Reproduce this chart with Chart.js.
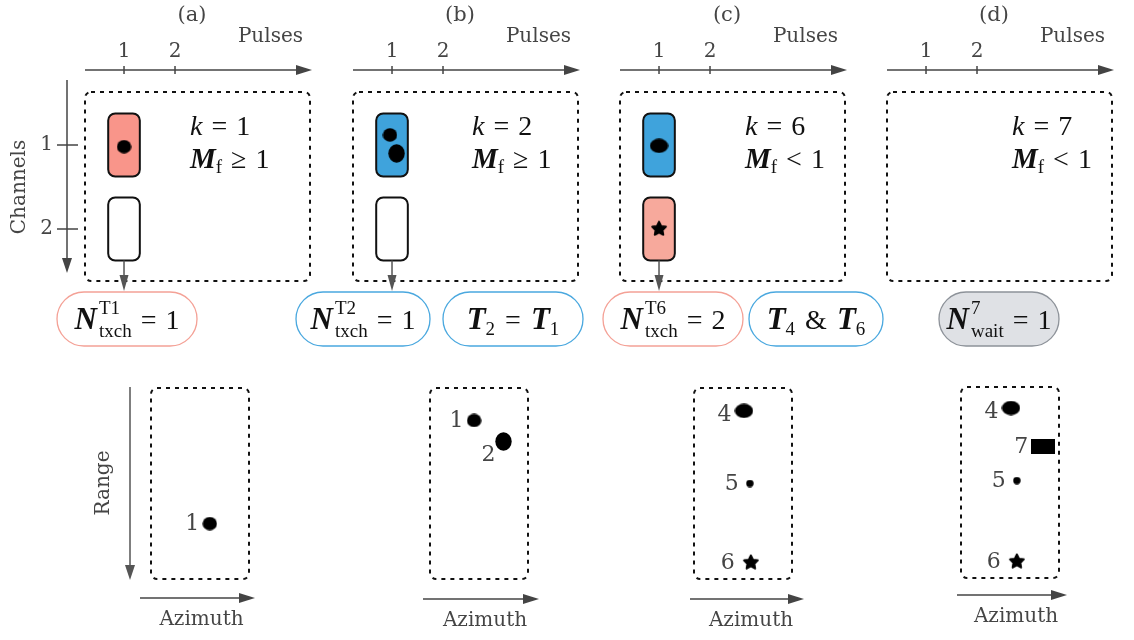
<!DOCTYPE html>
<html>
<head>
<meta charset="utf-8">
<script src="https://cdn.jsdelivr.net/npm/chart.js@4.4.1/dist/chart.umd.min.js"></script>
<style>
html, body { margin: 0; padding: 0; background: #fff; overflow: hidden; }
#wrap { position: relative; width: 1134px; height: 640px; overflow: hidden; }
#wrap canvas { position: absolute; }
</style>
</head>
<body>
<div id="wrap"></div>
<script>
// ---- data ----
const panelNames = ['(a)', '(b)', '(c)', '(d)'];
const kValues = [1, 2, 6, 7];
const mfRelation = ['\u2265', '\u2265', '<', '<'];
const pulseTicks = [1, 2];
const channelTicks = [1, 2];

// channel cells of each panel
const cellPulse = [[1, 1], [1, 1], [1, 1], []];
const cellChannel = [[1, 2], [1, 2], [1, 2], []];
const cellState = [['red', 'empty'], ['blue', 'empty'], ['blue', 'redLight'], []];

// measurements inside the cells (pulse, channel)
const measPulse = [[1], [0.96, 1.09], [1, 1], []];
const measChannel = [[1.02], [0.88, 1.1], [1.01, 1.99], []];
const measMarker = [['dot'], ['dot', 'bigdot'], ['ellipse', 'star'], []];

// counters under each panel
const countSup = ['T1', 'T2', 'T6', '7'];
const countSub = ['txch', 'txch', 'txch', 'wait'];
const countValue = [1, 1, 2, 1];
const countColour = ['red', 'blue', 'red', 'grey'];
const trackRelation = [null, ['2', '=', '1'], ['4', '&', '6'], null];

// detections in the azimuth / range plots (0..100 of the window)
const detId = [[1], [1, 2], [4, 5, 6], [4, 7, 5, 6]];
const detAzimuth = [[60], [45, 75], [51, 57, 58], [51, 84, 57, 57]];
const detRange = [[71], [17, 28], [12, 50, 91], [11, 31, 49, 91]];
const detMarker = [['dot'], ['dot', 'bigdot'], ['ellipse', 'small', 'star'], ['ellipse', 'rect', 'small', 'star']];

// ---- layout ----
const boxLeft = [85, 353, 620, 887];
const boxTop = 92, boxW = 225, boxH = 189;
const pulseMin = 0.235, pulseMax = 4.647;
const chanMin = 0.369, chanMax = 2.619;
const kTextLeft = [105, 119, 125, 125];
const pillLeft = [[-28], [-57, 90], [-17, 129], [52]];
const pillWidth = [[140], [134, 140], [140, 134], [120]];
const pillTop = 292, pillH = 54;

const detBoxLeft = [151, 430, 694, 961];
const detBoxTop = [388, 388, 388, 387];
const detBoxW = 98, detBoxH = 191;
const azArrow = [[-11, 6, 19], [-7, 11, 20], [-4, 12, 20], [-4, 8, 17]];

const colours = {
  red: '#f9958a', redLight: '#f7a99c', blue: '#3fa3dc', empty: '#ffffff',
  redLine: '#f4a196', blueLine: '#4aa8df', grey: '#dfe1e5', greyLine: '#8d9299'
};
const LABEL = '20px "DejaVu Serif"';
const GREY = '#454545';
const MF = {
  i: 'italic 28px "Liberation Serif"',
  b: 'italic bold 29px "Liberation Serif"',
  B: 'italic bold 31px "Liberation Serif"',
  r: '28px "Liberation Serif"',
  s: '19px "Liberation Serif"'
};

function makeMarker(kind) {
  const dims = {dot: [15, 14], bigdot: [17, 19], ellipse: [19, 15], small: [8, 8], star: [18, 16], rect: [24, 15]}[kind];
  const c = document.createElement('canvas');
  c.width = dims[0]; c.height = dims[1];
  const g = c.getContext('2d');
  const cx = c.width / 2, cy = c.height / 2;
  g.fillStyle = '#000';
  g.beginPath();
  if (kind === 'rect') {
    g.rect(0, 0, c.width, c.height);
  } else if (kind === 'star') {
    for (let i = 0; i < 10; i++) {
      const r = i % 2 ? 3.6 : 7.2;
      const a = -Math.PI / 2 + i * Math.PI / 5;
      g.lineTo(cx + r * Math.cos(a), cy + 0.8 + r * Math.sin(a));
    }
    g.closePath();
    g.lineJoin = 'round'; g.lineWidth = 2; g.strokeStyle = '#000';
    g.stroke();
  } else {
    g.ellipse(cx, cy, cx - 0.3, cy - 0.3, 0, 0, Math.PI * 2);
  }
  g.fill();
  return c;
}
const markers = {};
['dot', 'bigdot', 'ellipse', 'small', 'star', 'rect'].forEach(k => markers[k] = makeMarker(k));

function arrow(ctx, x1, y1, x2, y2, colour, lw, head, half) {
  const a = Math.atan2(y2 - y1, x2 - x1);
  const bx = x2 - head * Math.cos(a), by = y2 - head * Math.sin(a);
  ctx.save();
  ctx.strokeStyle = colour; ctx.fillStyle = colour; ctx.lineWidth = lw;
  ctx.beginPath(); ctx.moveTo(x1, y1); ctx.lineTo(bx, by); ctx.stroke();
  ctx.beginPath();
  ctx.moveTo(x2, y2);
  ctx.lineTo(bx + half * Math.sin(a), by - half * Math.cos(a));
  ctx.lineTo(bx - half * Math.sin(a), by + half * Math.cos(a));
  ctx.closePath(); ctx.fill();
  ctx.restore();
}

function dottedBox(ctx, x, y, w, h) {
  ctx.save();
  ctx.setLineDash([4, 5]);
  ctx.lineWidth = 2; ctx.strokeStyle = '#111';
  ctx.beginPath(); ctx.roundRect(x, y, w, h, 6); ctx.stroke();
  ctx.restore();
}

function label(ctx, text, x, y, align, font, rot) {
  ctx.save();
  ctx.font = font || LABEL; ctx.fillStyle = GREY;
  ctx.textAlign = align || 'center'; ctx.textBaseline = 'middle';
  ctx.translate(x, y);
  if (rot) ctx.rotate(rot);
  ctx.fillText(text, 0, 0);
  ctx.restore();
}

function partWidth(ctx, pt) {
  if (pt.g) return pt.g;
  if (pt.sup !== undefined) {
    ctx.font = MF.s;
    return Math.max(ctx.measureText(pt.sup).width, ctx.measureText(pt.sub).width);
  }
  ctx.font = MF[pt.f];
  return ctx.measureText(pt.t).width;
}

function drawMath(ctx, parts, x, y, align) {
  let w = 0;
  parts.forEach(pt => w += partWidth(ctx, pt));
  let cx = align === 'center' ? x - w / 2 : x;
  ctx.save();
  ctx.fillStyle = '#111'; ctx.textAlign = 'left'; ctx.textBaseline = 'alphabetic';
  parts.forEach(pt => {
    const pw = partWidth(ctx, pt);
    if (pt.sup !== undefined) {
      ctx.font = MF.s;
      ctx.fillText(pt.sup, cx, y - 15);
      ctx.fillText(pt.sub, cx, y + 8);
    } else if (!pt.g) {
      ctx.font = MF[pt.f];
      ctx.fillText(pt.t, cx, y + (pt.dy || 0));
    }
    cx += pw;
  });
  ctx.restore();
}

function pill(ctx, x, w, kind) {
  ctx.save();
  ctx.beginPath(); ctx.roundRect(x, pillTop, w, pillH, pillH / 2);
  if (kind === 'grey') {
    ctx.fillStyle = colours.grey; ctx.fill();
    ctx.strokeStyle = colours.greyLine;
  } else {
    ctx.strokeStyle = colours[kind + 'Line'];
  }
  ctx.lineWidth = 1.3; ctx.stroke();
  ctx.restore();
}

const wrap = document.getElementById('wrap');
function addCanvas(left, top, w, h) {
  const c = document.createElement('canvas');
  c.width = w; c.height = h;
  c.style.left = left + 'px'; c.style.top = top + 'px';
  c.style.width = w + 'px'; c.style.height = h + 'px';
  wrap.appendChild(c);
  return c;
}

// ---- upper panels: pulses x channels ----
function topPanel(p) {
  const cw = 350, ch = 360, padL = 85;
  const cv = addCanvas(boxLeft[p] - padL, 0, cw, ch);
  const diagram = {
    id: 'diagram' + p,
    beforeDatasetsDraw(chart) {
      const ctx = chart.ctx, ca = chart.chartArea;
      const xs = chart.scales.x, ys = chart.scales.y;
      dottedBox(ctx, ca.left, ca.top, ca.width, ca.height);

      // pulses axis
      const ay = ca.top - 22;
      arrow(ctx, ca.left, ay, ca.right + 2, ay, '#444', 1.5, 16, 5);
      ctx.save(); ctx.strokeStyle = '#444'; ctx.lineWidth = 1.5;
      pulseTicks.forEach(t => {
        const x = xs.getPixelForValue(t);
        ctx.beginPath(); ctx.moveTo(x, ay - 4); ctx.lineTo(x, ay + 4); ctx.stroke();
        label(ctx, String(t), x, ay - 18);
      });
      ctx.restore();
      label(ctx, 'Pulses', ca.right - 7, ay - 33, 'right');
      label(ctx, panelNames[p], ca.left + 107, 16, 'center', '21px "DejaVu Serif"');

      // channels axis (first panel only)
      if (p === 0) {
        const ax = ca.left - 18;
        arrow(ctx, ax, ca.top - 12, ax, ca.bottom - 8, '#444', 1.5, 15, 5);
        ctx.save(); ctx.strokeStyle = '#444'; ctx.lineWidth = 1.5;
        channelTicks.forEach(t => {
          const y = ys.getPixelForValue(t);
          ctx.beginPath(); ctx.moveTo(ax - 10, y); ctx.lineTo(ax + 11, y); ctx.stroke();
          label(ctx, String(t), ax - 14, y, 'right');
        });
        ctx.restore();
        label(ctx, 'Channels', 20, 187, 'center', LABEL, -Math.PI / 2);
      }

      // channel cells
      let lastBottom = null, lastX = null;
      cellPulse[p].forEach((pu, i) => {
        const c = cellChannel[p][i];
        const x0 = xs.getPixelForValue(pu - 0.31), x1 = xs.getPixelForValue(pu + 0.31);
        const y0 = ys.getPixelForValue(c - 0.375), y1 = ys.getPixelForValue(c + 0.375);
        ctx.save();
        ctx.beginPath(); ctx.roundRect(x0, y0, x1 - x0, y1 - y0, 7);
        ctx.fillStyle = colours[cellState[p][i]]; ctx.fill();
        ctx.lineWidth = 2; ctx.strokeStyle = '#111'; ctx.stroke();
        ctx.restore();
        lastBottom = y1; lastX = xs.getPixelForValue(pu);
      });
      if (lastBottom !== null) arrow(ctx, lastX, lastBottom, lastX, pillTop - 1, '#555', 1.5, 16, 4.5);

      // k and M_f
      const tx = ca.left + kTextLeft[p];
      drawMath(ctx, [{t: 'k', f: 'i'}, {g: 9}, {t: '=', f: 'r'}, {g: 9}, {t: String(kValues[p]), f: 'r'}], tx, 135, 'left');
      drawMath(ctx, [{t: 'M', f: 'b'}, {t: 'f', f: 's', dy: 5}, {g: 9}, {t: mfRelation[p], f: 'r'}, {g: 9}, {t: '1', f: 'r'}], tx, 168, 'left');

      // counters
      const base = pillTop + pillH / 2 + 10;
      const x0 = ca.left + pillLeft[p][0], w0 = pillWidth[p][0];
      pill(ctx, x0, w0, countColour[p]);
      drawMath(ctx, [{t: 'N', f: 'B'}, {g: 2}, {sup: countSup[p], sub: countSub[p]}, {g: 9}, {t: '=', f: 'r'}, {g: 9}, {t: String(countValue[p]), f: 'r'}], x0 + w0 / 2, base, 'center');
      const rel = trackRelation[p];
      if (rel) {
        const x1 = ca.left + pillLeft[p][1], w1 = pillWidth[p][1];
        pill(ctx, x1, w1, 'blue');
        drawMath(ctx, [{t: 'T', f: 'B'}, {t: rel[0], f: 's', dy: 6}, {g: 10}, {t: rel[1], f: 'r'}, {g: 10}, {t: 'T', f: 'B'}, {t: rel[2], f: 's', dy: 6}], x1 + w1 / 2, base, 'center');
      }
    }
  };
  new Chart(cv, {
    type: 'scatter',
    data: {
      datasets: [{
        data: measPulse[p].map((x, i) => ({x: x, y: measChannel[p][i]})),
        pointStyle: measMarker[p].map(m => markers[m])
      }]
    },
    options: {
      responsive: false, animation: false, events: [],
      layout: {padding: {left: padL, top: boxTop, right: cw - padL - boxW, bottom: ch - boxTop - boxH}},
      scales: {
        x: {type: 'linear', min: pulseMin, max: pulseMax, display: false},
        y: {type: 'linear', min: chanMin, max: chanMax, reverse: true, display: false}
      },
      plugins: {legend: {display: false}, tooltip: {enabled: false}}
    },
    plugins: [diagram]
  });
}

// ---- lower panels: azimuth x range ----
function bottomPanel(p) {
  const cw = 200, ch = 270, padL = 75, padT = 18;
  const top = detBoxTop[p] - padT;
  const cv = addCanvas(detBoxLeft[p] - padL, top, cw, ch);
  const frame = {
    id: 'frame' + p,
    beforeDatasetsDraw(chart) {
      const ctx = chart.ctx, ca = chart.chartArea;
      dottedBox(ctx, ca.left, ca.top, ca.width, ca.height);
      const a = azArrow[p];
      const ay = ca.bottom + a[2];
      arrow(ctx, ca.left + a[0], ay, ca.right + a[1], ay, '#444', 1.5, 16, 5);
      label(ctx, 'Azimuth', (ca.left + a[0] + ca.right + a[1]) / 2 + 4, ay + 22);
      if (p === 0) {
        const rx = ca.left - 21;
        arrow(ctx, rx, ca.top - 1, rx, ca.bottom + 1, '#555', 1.5, 15, 5);
        label(ctx, 'Range', ca.left - 47, 483 - top, 'center', LABEL, -Math.PI / 2);
      }
    },
    afterDatasetsDraw(chart) {
      const ctx = chart.ctx;
      const pts = chart.getDatasetMeta(0).data;
      pts.forEach((pt, i) => {
        const m = markers[detMarker[p][i]];
        const id = detId[p][i];
        if (id === 2) {
          label(ctx, String(id), pt.x - 8, pt.y + 14, 'right', '22px "DejaVu Serif"');
        } else {
          const gap = detMarker[p][i] === 'small' || detMarker[p][i] === 'star' ? 7 : 3;
          label(ctx, String(id), pt.x - m.width / 2 - gap, pt.y + (id === 4 ? 4 : 1), 'right', '22px "DejaVu Serif"');
        }
      });
    }
  };
  new Chart(cv, {
    type: 'scatter',
    data: {
      datasets: [{
        data: detAzimuth[p].map((x, i) => ({x: x, y: detRange[p][i]})),
        pointStyle: detMarker[p].map(m => markers[m])
      }]
    },
    options: {
      responsive: false, animation: false, events: [],
      layout: {padding: {left: padL, top: padT, right: cw - padL - detBoxW, bottom: ch - padT - detBoxH}},
      scales: {
        x: {type: 'linear', min: 0, max: 100, display: false},
        y: {type: 'linear', min: 0, max: 100, reverse: true, display: false}
      },
      plugins: {legend: {display: false}, tooltip: {enabled: false}}
    },
    plugins: [frame]
  });
}

for (let p = 0; p < 4; p++) { topPanel(p); bottomPanel(p); }
</script>
</body>
</html>
